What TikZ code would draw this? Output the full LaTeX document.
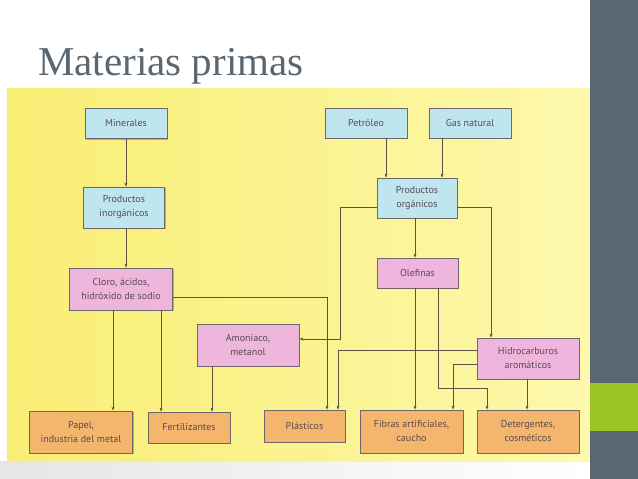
\documentclass[tikz,border=0pt]{standalone}
\usepackage{fontspec}
\setmainfont{PT Sans}
\newfontfamily\titlefont{Liberation Serif}
\usetikzlibrary{arrows.meta,shadows}
\definecolor{slate}{HTML}{5B6770}
\definecolor{lime}{HTML}{9BC424}
\definecolor{yelL}{HTML}{F9EE74}
\definecolor{yelR}{HTML}{FDF8AC}
\definecolor{bluebox}{HTML}{BFE6EE}
\definecolor{pinkbox}{HTML}{EEB6DC}
\definecolor{orangebox}{HTML}{F4B66C}
\definecolor{boxline}{HTML}{6E6668}
\definecolor{txt}{HTML}{5A4A52}
\definecolor{linec}{HTML}{5E5446}
\tikzset{
  box/.style={draw=boxline, line width=0.8pt, align=center, text=txt,
    font=\fontsize{10}{14}\selectfont, inner sep=1pt,
    drop shadow={shadow xshift=1.2pt, shadow yshift=-1.2pt, opacity=0.45, fill=black!60}},
  bluen/.style={box, fill=bluebox},
  pinkn/.style={box, fill=pinkbox},
  orangen/.style={box, fill=orangebox},
  small/.style={minimum width=82pt, minimum height=30pt},
  mid/.style={minimum width=81pt, minimum height=41pt},
  big/.style={minimum width=103pt, minimum height=42pt},
  arr/.style={draw=linec, line width=0.6pt, -{Stealth[length=4pt,width=3pt]}},
  ln/.style={draw=linec, line width=0.6pt}
}
\begin{document}
\begin{tikzpicture}[x=1pt,y=-1pt]
\useasboundingbox (0,0) rectangle (638,479);
\fill[white] (0,0) rectangle (638,479);
\shade[left color=black!10, right color=white] (0,461) rectangle (590,479);
\shade[left color=yelL, right color=yelR] (7,88) rectangle (590,461);
\fill[slate] (590,0) rectangle (638,479);
\fill[lime] (590,383) rectangle (638,431);
\node[anchor=base west, inner sep=0, text=slate, font=\titlefont\fontsize{41}{41}\selectfont] (title) at (38,75) {Materias primas};

% nodes
\node[bluen, small] (min) at (126,123.5) {Minerales};
\node[bluen, mid] (inorg) at (124,207.5) {Productos\\inorgánicos};
\node[pinkn, big] (cloro) at (121,289) {Cloro, ácidos,\\hidróxido de sodio};
\node[pinkn, big, minimum width=102pt] (amon) at (248,345) {Amoniaco,\\metanol};
\node[orangen, big] (papel) at (81,432) {Papel,\\industria del metal};
\node[orangen, small, minimum height=31pt] (fert) at (189,427.5) {Fertilizantes};
\node[orangen, small, minimum width=81pt, minimum height=32pt] (plast) at (304.5,426) {Plásticos};
\node[orangen, big, minimum height=43pt] (fibras) at (411.5,431.5) {Fibras artificiales,\\caucho};
\node[orangen, big, minimum width=102pt, minimum height=43pt] (deter) at (528,431.5) {Detergentes,\\cosméticos};
\node[bluen, small] (petro) at (366,123) {Petróleo};
\node[bluen, small] (gas) at (470,123) {Gas natural};
\node[bluen, mid, minimum width=80pt, minimum height=40pt] (porg) at (417,198) {Productos\\orgánicos};
\node[pinkn, small, minimum width=81pt] (olef) at (417.5,273) {Olefinas};
\node[pinkn, big, minimum width=102pt, minimum height=41pt] (hidro) at (528,358.5) {Hidrocarburos\\aromáticos};

% connectors
\draw[arr] (min.south -| 126,0) -- (inorg.north -| 126,0);
\draw[arr] (inorg.south -| 126,0) -- (cloro.north -| 126,0);
\draw[arr] (cloro.south -| 113,0) -- (papel.north -| 113,0);
\draw[arr] (cloro.south -| 161,0) -- (fert.north -| 161,0);
\draw[arr] (amon.south -| 212,0) -- (fert.north -| 212,0);
\draw[arr] (cloro.east |- 0,297) -| (plast.north -| 327,0);
\draw[arr] (petro.south -| 386,0) -- (porg.north -| 386,0);
\draw[arr] (gas.south -| 442,0) -- (porg.north -| 442,0);
\draw[arr] (porg.south -| 415,0) -- (olef.north -| 415,0);
\draw[arr] (porg.west |- 0,207) -| (340,339) -- (amon.east |- 0,339);
\draw[arr] (porg.east |- 0,207) -| (hidro.north -| 491,0);
\draw[arr] (hidro.west |- 0,350) -| (plast.north -| 338,0);
\draw[arr] (hidro.west |- 0,364) -| (fibras.north -| 453,0);
\draw[arr] (olef.south -| 415,0) -- (fibras.north -| 415,0);
\draw[arr] (olef.south -| 438,0) |- (487,388) -- (deter.north -| 487,0);
\draw[arr] (hidro.south -| 527,0) -- (deter.north -| 527,0);
\end{tikzpicture}
\end{document}
